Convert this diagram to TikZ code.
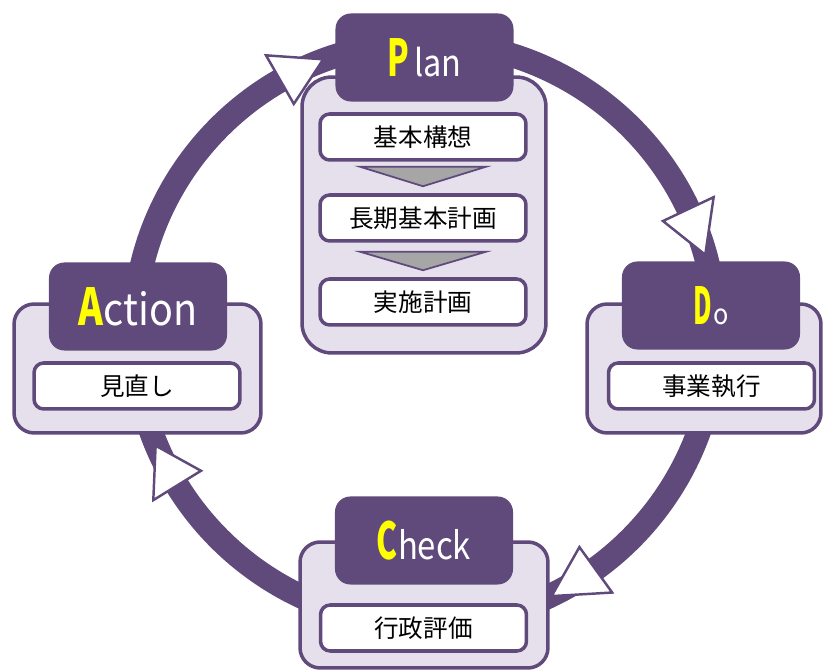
\documentclass[tikz,border=0pt]{standalone}
\usepackage{fontspec}
\setmainfont{Noto Sans CJK JP}
\usepackage{graphicx}
\usetikzlibrary{calc}

\definecolor{pdcapurple}{HTML}{604A7B}
\definecolor{pdcalavender}{HTML}{E5E0EC}
\definecolor{pdcagray}{HTML}{A6A6A6}
\definecolor{pdcayellow}{HTML}{FFFF00}

%big yellow first letter and the white rest of a header
\newcommand{\capletter}[2]{{\fontsize{29pt}{29pt}\selectfont\bfseries\color{pdcayellow}\scalebox{#1}[1]{#2}}}
\newcommand{\restletters}[3]{{\fontsize{#1}{#1}\selectfont\color{white}\scalebox{#2}[1]{#3}}}

\begin{document}
\begin{tikzpicture}[x=0.02cm, y=-0.02cm,
  ringline/.style={draw=pdcapurple, line width=13.7pt},
  ringtip/.style={draw=pdcapurple, line width=1.4pt, fill=white, line join=miter},
  outerbox/.style={draw=pdcapurple, line width=2pt, fill=pdcalavender, rounded corners=11.5pt, inner sep=0pt},
  headbox/.style={draw=pdcapurple, line width=0.6pt, fill=pdcapurple, rounded corners=8.5pt, inner sep=0pt,
    minimum width=3.54cm, minimum height=1.74cm},
  itembox/.style={draw=pdcapurple, line width=2pt, fill=white, rounded corners=5.5pt, inner sep=0pt,
    minimum width=4.12cm, minimum height=0.92cm, font=\fontsize{14pt}{14pt}\selectfont},
  flowtri/.style={draw=pdcapurple, line width=1pt, fill=pdcagray, line join=miter}]
 \useasboundingbox (0,0) rectangle (825,671);

 %centre of the cycle
 \coordinate (ringc) at (425,333);

 %draw the cycle
 \draw[ringline] (ringc) circle [radius=291];

 %arrow heads on the cycle
 \draw[ringtip] ($(ringc)+(240.2:264)$) -- ($(ringc)+(249.6:292)$) -- ($(ringc)+(240.2:320)$) -- cycle;
 \draw[ringtip] ($(ringc)+(334.8:263)$) -- ($(ringc)+(344.4:291)$) -- ($(ringc)+(334.8:319)$) -- cycle;
 \draw[ringtip] ($(ringc)+(54.2:264)$) -- ($(ringc)+(64.3:292)$) -- ($(ringc)+(54.2:320)$) -- cycle;
 \draw[ringtip] ($(ringc)+(148.4:263)$) -- ($(ringc)+(157.3:292)$) -- ($(ringc)+(148.4:319)$) -- cycle;

 %Plan
 \node[outerbox, rounded corners=17pt, minimum width=4.88cm, minimum height=5.52cm] (planbox) at (424,215) {};
 \node[headbox] (planhead) at (424.5,57.5) {\capletter{0.62}{P}\hspace{3pt}\restletters{21pt}{0.88}{lan}};
 \node[itembox] (plan1) at (423,137) {基本構想};
 \node[itembox] (plan2) at (423,218) {長期基本計画};
 \node[itembox] (plan3) at (423,302) {実施計画};
 \draw[flowtri] ([xshift=-1.26cm,yshift=-0.1cm]plan1.south) -- ([xshift=1.26cm,yshift=-0.1cm]plan1.south) -- ([yshift=0.14cm]plan2.north) -- cycle;
 \draw[flowtri] ([xshift=-1.26cm,yshift=-0.18cm]plan2.south) -- ([xshift=1.26cm,yshift=-0.18cm]plan2.south) -- ([yshift=0.14cm]plan3.north) -- cycle;

 %Do
 \node[outerbox, minimum width=4.68cm, minimum height=2.58cm] (dobox) at (704,368.5) {};
 \node[headbox] (dohead) at (711,305.5) {\capletter{0.5}{D}\hspace{1pt}\restletters{16pt}{0.9}{o}};
 \node[itembox] (do1) at (711.5,386) {事業執行};

 %Check
 \node[outerbox, minimum width=4.96cm, minimum height=2.52cm] (checkbox) at (424,605) {};
 \node[headbox] (checkhead) at (424,540.5) {\capletter{0.62}{C}\restletters{21.5pt}{0.87}{heck}};
 \node[itembox] (check1) at (423.5,628) {行政評価};

 %Action
 \node[outerbox, minimum width=4.94cm, minimum height=2.58cm] (actbox) at (137.5,368.5) {};
 \node[headbox] (acthead) at (138,306.5) {\capletter{0.74}{A}\restletters{25pt}{0.9}{ction}};
 \node[itembox] (act1) at (137,386) {見直し};
\end{tikzpicture}
\end{document}
